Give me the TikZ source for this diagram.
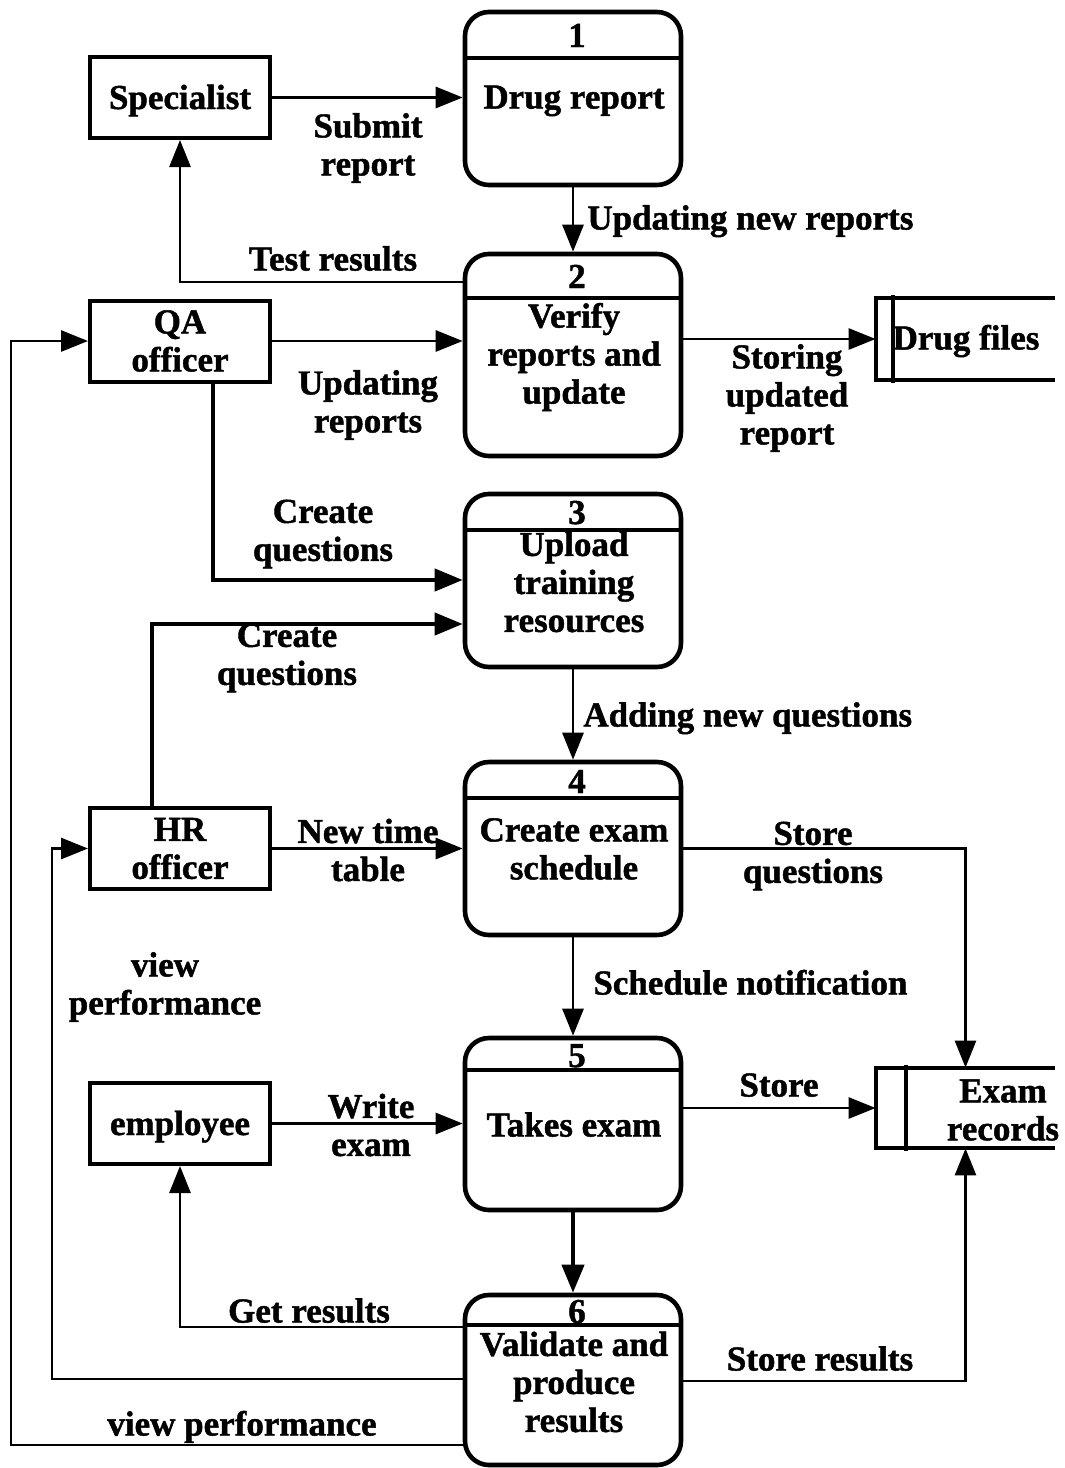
\documentclass[tikz,border=0pt]{standalone}
\usepackage{fontspec}
\setmainfont{Liberation Serif}[BoldFeatures={FakeBold=1.3}]
\usetikzlibrary{arrows.meta}
\begin{document}
\begin{tikzpicture}[x=0.5pt,y=-0.5pt,
  every node/.style={font=\fontsize{17.5}{19}\selectfont\bfseries, inner sep=0pt},
  proc/.style={draw, line width=2.3pt, rounded corners=12pt, minimum width=108pt},
  entity/.style={draw, line width=2pt, minimum width=90pt, minimum height=40.5pt},
  store/.style={minimum width=89.5pt, minimum height=41pt},
  divider/.style={line width=1.8pt},
  storeline/.style={line width=2pt},
  lbl/.style={align=center},
  one/.style={text height=12pt, text depth=3.5pt, yshift=-1.5pt},
  num/.style={text height=12pt, text depth=0pt, yshift=-1.5pt},
  flow/.style={line width=1.4pt, -{Triangle[length=13.5pt,width=10.5pt]}},
  thickflow/.style={line width=2.1pt, -{Triangle[length=14pt,width=11pt]}}]

\useasboundingbox (0,0) rectangle (1065,1468);

% processes
\node[proc, minimum height=86.5pt] (p1) at (573,98.5) {};
\node[proc, minimum height=101pt]  (p2) at (573,355) {};
\node[proc, minimum height=86.5pt] (p3) at (573,580.5) {};
\node[proc, minimum height=86.5pt] (p4) at (573,848.5) {};
\node[proc, minimum height=86pt]   (p5) at (573,1124) {};
\node[proc, minimum height=85pt]   (p6) at (573,1380) {};

\draw[divider] ([yshift=-24pt]p1.north west) -- ([yshift=-24pt]p1.north east);
\draw[divider] ([yshift=-23pt]p2.north west) -- ([yshift=-23pt]p2.north east);
\draw[divider] ([yshift=-19pt]p3.north west) -- ([yshift=-19pt]p3.north east);
\draw[divider] ([yshift=-19pt]p4.north west) -- ([yshift=-19pt]p4.north east);
\draw[divider] ([yshift=-17pt]p5.north west) -- ([yshift=-17pt]p5.north east);
\draw[divider] ([yshift=-16pt]p6.north west) -- ([yshift=-16pt]p6.north east);

\node[num] (n1) at (577,32) {1};
\node[one] (t1) at (574,97) {Drug report};
\node[num] (n2) at (577,273) {2};
\node[lbl] (t2) at (574,357) {Verify\\reports and\\update};
\node[num] (n3) at (577,509) {3};
\node[lbl] (t3) at (574,582) {Upload\\training\\resources};
\node[num] (n4) at (577,778) {4};
\node[lbl] (t4) at (574,849) {Create exam\\schedule};
\node[num] (n5) at (577,1052) {5};
\node[one] (t5) at (574,1125) {Takes exam};
\node[num] (n6) at (577,1308) {6};
\node[lbl] (t6) at (574,1382) {Validate and\\produce\\results};

% external entities
\node[entity] (spec) at (180,97.5) {};
\node[entity] (qa) at (180,341) {};
\node[entity] (hr) at (180,848.5) {};
\node[entity] (emp) at (180,1123.5) {};
\node[one] (spect) at (spec) {Specialist};
\node[lbl] (qat) at (qa) {QA\\officer};
\node[lbl] (hrt) at (hr) {HR\\officer};
\node[one] (empt) at (emp) {employee};

% data stores
\node[store] (df) at (965.5,339) {};
\draw[storeline] (df.north east) -- (df.north west) -- (df.south west) -- (df.south east);
\draw[storeline] ([xshift=8.5pt,yshift=1.5pt]df.north west) -- ([xshift=8.5pt,yshift=-1.5pt]df.south west);
\node[one] (dft) at (966,338) {Drug files};

\node[store, minimum height=40pt] (er) at (965.5,1108) {};
\draw[storeline] (er.north east) -- (er.north west) -- (er.south west) -- (er.south east);
\draw[storeline] ([xshift=15pt,yshift=1.5pt]er.north west) -- ([xshift=15pt,yshift=-1.5pt]er.south west);
\node[lbl] (ert) at (1003,1110) {Exam\\records};

% bend points
\coordinate (tr) at (0,282);
\coordinate (cq1) at (213,580);
\coordinate (cq2) at (152,624);
\coordinate (gr) at (0,1327);
\coordinate (vp1) at (52,1379);
\coordinate (vp2) at (11,1445);
\coordinate (sr) at (0,1381);

% data flows
\draw[flow] (spec.east) -- (spec.east -| p1.west);
\draw[flow] (p1.south) -- (p2.north);
\draw[flow] (p2.west |- tr) -| (spec.south);
\draw[flow] (qa.east) -- (qa.east -| p2.west);
\draw[flow] (p2.east |- df.west) -- (df.west);
\draw[thickflow] (qa.south -| cq1) |- (p3.west |- cq1);
\draw[thickflow] (hr.north -| cq2) |- (p3.west |- cq2);
\draw[flow] (p3.south) -- (p4.north);
\draw[flow] (hr.east) -- (hr.east -| p4.west);
\draw[flow] (p4.east) -| (er.north);
\draw[flow] (p4.south) -- (p5.north);
\draw[flow] (emp.east) -- (emp.east -| p5.west);
\draw[flow] (p5.east |- er.west) -- (er.west);
\draw[thickflow] (p5.south) -- (p6.north);
\draw[flow] (p6.west |- gr) -| (emp.south);
\draw[flow] (p6.west |- vp1) -- (vp1) |- (hr.west);
\draw[flow] (p6.west |- vp2) -- (vp2) |- (qa.west);
\draw[flow] (p6.east |- sr) -| (er.south);

% flow labels
\node[lbl] (l1) at (368,148) {Submit\\report};
\node[one, anchor=west] (l2) at (587,218) {Updating new reports};
\node[one] (l3) at (333,259) {Test results};
\node[lbl] (l4) at (368,405) {Updating\\reports};
\node[lbl] (l5) at (787,398) {Storing\\updated\\report};
\node[lbl] (l6) at (323,534) {Create\\questions};
\node[lbl] (l7) at (287,658) {Create\\questions};
\node[one, anchor=west] (l8) at (583,715) {Adding new questions};
\node[lbl] (l9) at (368,850) {New time\\table};
\node[lbl] (l10) at (813,856) {Store\\questions};
\node[one, anchor=west] (l11) at (593,983) {Schedule notification};
\node[lbl] (l12) at (165,987) {view\\performance};
\node[lbl] (l13) at (371,1125) {Write\\exam};
\node[one] (l14) at (779,1085) {Store};
\node[one] (l15) at (309,1311) {Get results};
\node[one] (l16) at (820,1359) {Store results};
\node[one] (l17) at (242,1424) {view performance};
\end{tikzpicture}
\end{document}
